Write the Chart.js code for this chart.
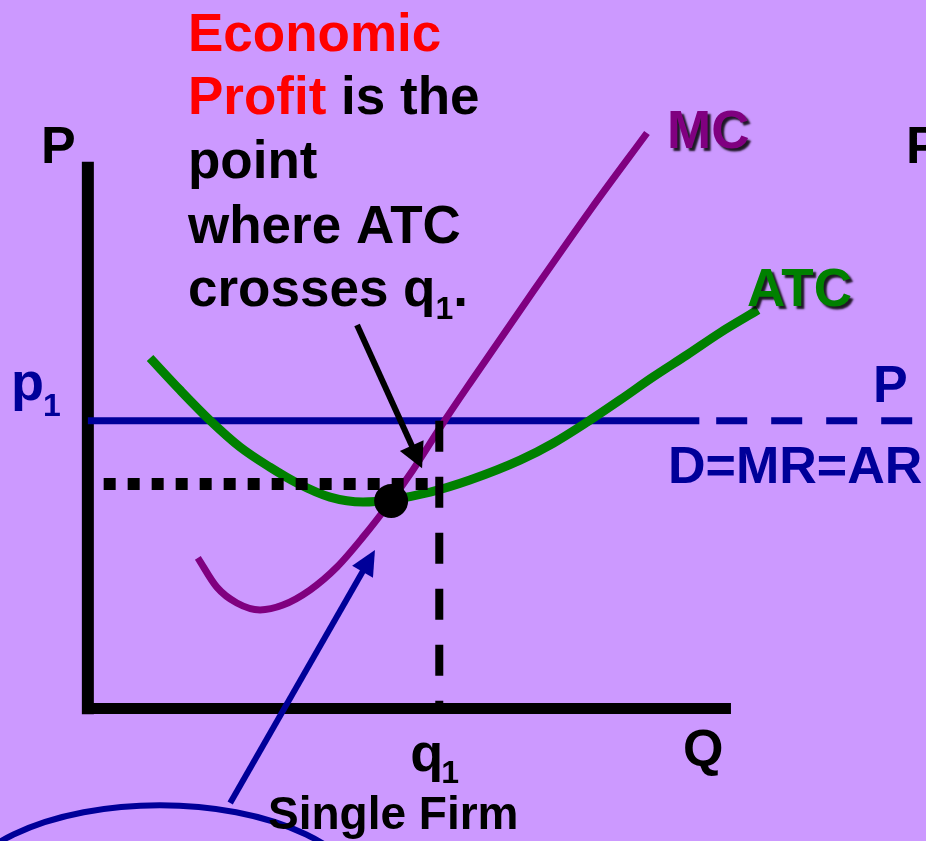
<!DOCTYPE html>
<html>
<head>
<meta charset="utf-8">
<script src="https://cdn.jsdelivr.net/npm/chart.js@4.4.1/dist/chart.umd.min.js"></script>
<style>
    html, body { margin: 0; padding: 0; background: #cc99ff; }
    #wrap { position: relative; width: 926px; height: 841px; }
</style>
</head>
<body>
<div id="wrap"><canvas id="chart1"></canvas></div>
<script>
// quantity (Q) and price (P) units
const p1 = 10;
const q1 = 10;
const minAtc = 7.8;

// marginal cost curve
const mcQ = [3.13, 3.67, 4.24, 4.90, 5.55, 6.32, 7.09, 7.83, 8.60, 9.25, 10.16, 10.93, 12.64, 14.32, 15.91];
const mcP = [5.24, 4.22, 3.67, 3.43, 3.60, 4.12, 4.92, 5.96, 7.17, 8.29, 10.02, 11.41, 14.44, 17.36, 20.00];

// average total cost curve
const atcQ = [1.77, 2.62, 3.47, 4.33, 5.18, 5.95, 6.89, 7.83, 8.60, 9.74, 10.87, 12.30, 13.24, 14.20, 15.14, 16.08, 17.05, 17.99, 19.07];
const atcP = [12.18, 11.07, 10.02, 9.09, 8.39, 7.84, 7.35, 7.18, 7.25, 7.52, 7.94, 8.63, 9.22, 9.95, 10.72, 11.52, 12.29, 13.06, 13.85];

// highlighted point
const dotQ = [8.63];
const dotP = [7.21];

// axis extents
const axisQ = [0, 18.3];
const axisP = [-0.2, 19];
const priceSolidQ = [0, 17.4];
const priceDashQ = [17.88, 24];
const dottedQ = [0.45, 9.72];

// arrows [fromQ, fromP, toQ, toP]
const profitArrow = [7.66, 13.33, 9.51, 8.35];
const firmArrow = [4.05, -3.28, 8.17, 5.51];

const zip = (xs, ys) => xs.map((x, i) => ({ x: x, y: ys[i] }));

const FONT = '"Liberation Sans", Arial, sans-serif';
const NAVY = "#000099";
const PURPLE = "#800080";
const GREEN = "#008000";

function arrow(ctx, xs, ys, a, color, width, headLen, headHalf) {
    const x0 = xs.getPixelForValue(a[0]), y0 = ys.getPixelForValue(a[1]);
    const x1 = xs.getPixelForValue(a[2]), y1 = ys.getPixelForValue(a[3]);
    const dx = x1 - x0, dy = y1 - y0, len = Math.hypot(dx, dy);
    const ux = dx / len, uy = dy / len;
    const bx = x1 - ux * headLen, by = y1 - uy * headLen;
    ctx.strokeStyle = color;
    ctx.fillStyle = color;
    ctx.lineWidth = width;
    ctx.lineCap = "butt";
    ctx.beginPath();
    ctx.moveTo(x0, y0);
    ctx.lineTo(bx + ux * 2, by + uy * 2);
    ctx.stroke();
    ctx.beginPath();
    ctx.moveTo(x1, y1);
    ctx.lineTo(bx - uy * headHalf, by + ux * headHalf);
    ctx.lineTo(bx + uy * headHalf, by - ux * headHalf);
    ctx.closePath();
    ctx.fill();
}

function text(ctx, str, x, y, size, color) {
    ctx.font = "bold " + size + "px " + FONT;
    ctx.fillStyle = color;
    ctx.fillText(str, x, y);
    return ctx.measureText(str).width;
}

const annotations = {
    id: "annotations",
    afterDatasetsDraw(chart) {
        const ctx = chart.ctx;
        const xs = chart.scales.x, ys = chart.scales.y;
        ctx.save();

        // ellipse at bottom left
        ctx.strokeStyle = NAVY;
        ctx.lineWidth = 6;
        ctx.beginPath();
        ctx.ellipse(xs.getPixelForValue(2.05), ys.getPixelForValue(-6.83), 207, 100, 0, 0, Math.PI * 2);
        ctx.stroke();

        arrow(ctx, xs, ys, profitArrow, "#000000", 6, 25, 13);
        arrow(ctx, xs, ys, firmArrow, NAVY, 6, 25, 12);

        ctx.textBaseline = "alphabetic";
        ctx.textAlign = "left";

        // explanation block
        text(ctx, "Economic", 188, 51, 53, "#ff0000");
        let w = text(ctx, "Profit", 188, 114, 53, "#ff0000");
        text(ctx, " is the", 188 + w, 114, 53, "#000000");
        text(ctx, "point", 188, 178, 53, "#000000");
        text(ctx, "where ATC", 188, 243, 53, "#000000");
        w = text(ctx, "crosses q", 188, 306, 53, "#000000");
        let w2 = text(ctx, "1", 188 + w, 319, 32, "#000000");
        text(ctx, ".", 188 + w + w2, 306, 53, "#000000");

        // axis labels
        text(ctx, "P", 41, 163, 52, "#000000");
        text(ctx, "P", 906, 163, 52, "#000000");
        w = text(ctx, "p", 11, ys.getPixelForValue(p1) - 21, 54, NAVY);
        text(ctx, "1", 11 + w - 1, ys.getPixelForValue(p1) - 5, 32, NAVY);
        text(ctx, "Q", 683, 766, 52, "#000000");
        w = text(ctx, "q", xs.getPixelForValue(q1) - 29, 771, 54, "#000000");
        text(ctx, "1", xs.getPixelForValue(q1) - 29 + w - 2, 783, 32, "#000000");
        text(ctx, "Single Firm", 268, 829, 46, "#000000");

        // demand labels
        text(ctx, "P", 873, 402, 52, NAVY);
        text(ctx, "D=MR=AR", 668, 483, 52, NAVY);

        // curve labels with shadow
        ctx.shadowColor = "rgba(0,0,0,0.85)";
        ctx.shadowOffsetX = 3;
        ctx.shadowOffsetY = 3;
        ctx.shadowBlur = 2;
        text(ctx, "MC", 667, 148, 53, PURPLE);
        text(ctx, "ATC", 747, 306, 53, GREEN);

        ctx.restore();
    }
};

document.addEventListener("DOMContentLoaded", function() {
    const ctx = document.getElementById("chart1");
    new Chart(ctx, {
        type: "scatter",
        data: {
            datasets: [
                {
                    label: "Point",
                    data: zip(dotQ, dotP),
                    pointRadius: 17,
                    pointBackgroundColor: "#000000",
                    pointBorderWidth: 0,
                    showLine: false,
                    order: 1
                },
                {
                    label: "q1",
                    data: zip([q1, q1], [p1, 0]),
                    borderColor: "#000000",
                    borderWidth: 8,
                    borderDash: [31, 25],
                    showLine: true,
                    pointRadius: 0,
                    order: 2
                },
                {
                    label: "Min ATC",
                    data: zip(dottedQ, [minAtc, minAtc]),
                    borderColor: "#000000",
                    borderWidth: 12,
                    borderDash: [12, 12],
                    borderCapStyle: "butt",
                    showLine: true,
                    pointRadius: 0,
                    order: 3
                },
                {
                    label: "MC",
                    data: zip(mcQ, mcP),
                    borderColor: PURPLE,
                    borderWidth: 7,
                    cubicInterpolationMode: "monotone",
                    showLine: true,
                    pointRadius: 0,
                    order: 4
                },
                {
                    label: "ATC",
                    data: zip(atcQ, atcP),
                    borderColor: GREEN,
                    borderWidth: 9,
                    cubicInterpolationMode: "monotone",
                    showLine: true,
                    pointRadius: 0,
                    order: 5
                },
                {
                    label: "Price",
                    data: zip(priceSolidQ, [p1, p1]),
                    borderColor: NAVY,
                    borderWidth: 7,
                    showLine: true,
                    pointRadius: 0,
                    order: 6
                },
                {
                    label: "Price dashed",
                    data: zip(priceDashQ, [p1, p1]),
                    borderColor: NAVY,
                    borderWidth: 7,
                    borderDash: [31, 24],
                    showLine: true,
                    pointRadius: 0,
                    order: 7
                },
                {
                    label: "Q axis",
                    data: zip(axisQ, [0, 0]),
                    borderColor: "#000000",
                    borderWidth: 11,
                    showLine: true,
                    pointRadius: 0,
                    order: 8
                },
                {
                    label: "P axis",
                    data: zip([0, 0], axisP),
                    borderColor: "#000000",
                    borderWidth: 12,
                    showLine: true,
                    pointRadius: 0,
                    order: 9
                }
            ]
        },
        options: {
            responsive: true,
            maintainAspectRatio: false,
            animation: false,
            layout: { padding: 0, autoPadding: false },
            plugins: {
                legend: { display: false },
                tooltip: { enabled: false }
            },
            scales: {
                x: { type: "linear", min: -2.5, max: 23.85, display: false },
                y: { type: "linear", min: -4.6, max: 24.62, display: false }
            }
        },
        plugins: [annotations]
    });
});
</script>
</body>
</html>
